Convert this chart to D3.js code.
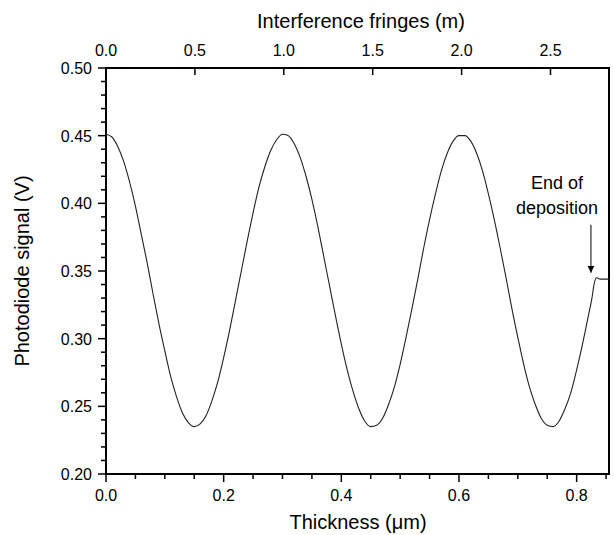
<!DOCTYPE html>
<html>
<head>
<meta charset="utf-8">
<script src="https://cdn.jsdelivr.net/npm/d3@7"></script>
<style>
  body { margin: 0; background: #fff; overflow: hidden; }
  svg { display: block; font-family: 'Liberation Sans', Arial, sans-serif; }
  .axis path, .axis line { stroke: #000; }
  .tick-label { fill: #000; font-size: 16px; }
</style>
</head>
<body>
<div id="chart"></div>
<script>
/* Data */
const thickness = [
  0.00, 0.01, 0.02, 0.03, 0.04, 0.05, 0.06, 0.07, 0.08, 0.09,
  0.10, 0.11, 0.12, 0.13, 0.14, 0.15, 0.16, 0.17, 0.18, 0.19,
  0.20, 0.21, 0.22, 0.23, 0.24, 0.25, 0.26, 0.27, 0.28, 0.29,
  0.30, 0.31, 0.32, 0.33, 0.34, 0.35, 0.36, 0.37, 0.38, 0.39,
  0.40, 0.41, 0.42, 0.43, 0.44, 0.45, 0.46, 0.47, 0.48, 0.49,
  0.50, 0.51, 0.52, 0.53, 0.54, 0.55, 0.56, 0.57, 0.58, 0.59,
  0.60, 0.61, 0.62, 0.63, 0.64, 0.65, 0.66, 0.67, 0.68, 0.69,
  0.70, 0.71, 0.72, 0.73, 0.74, 0.75, 0.76, 0.77, 0.78, 0.79,
  0.80, 0.81, 0.82, 0.826, 0.830, 0.834, 0.840, 0.850, 0.855
];
const signal = [
  0.451, 0.449, 0.442, 0.431, 0.416, 0.398, 0.377, 0.356, 0.333, 0.311,
  0.291, 0.272, 0.257, 0.245, 0.238, 0.235, 0.237, 0.243, 0.254, 0.268,
  0.286, 0.306, 0.328, 0.350, 0.372, 0.393, 0.412, 0.427, 0.439, 0.447,
  0.451, 0.450, 0.444, 0.434, 0.420, 0.403, 0.383, 0.361, 0.339, 0.317,
  0.296, 0.277, 0.261, 0.248, 0.239, 0.235, 0.236, 0.241, 0.251, 0.264,
  0.281, 0.301, 0.322, 0.344, 0.367, 0.388, 0.407, 0.424, 0.437, 0.446,
  0.450, 0.450, 0.446, 0.437, 0.424, 0.407, 0.388, 0.367, 0.345, 0.322,
  0.301, 0.281, 0.264, 0.251, 0.241, 0.236, 0.235, 0.239, 0.248, 0.260,
  0.277, 0.296, 0.317, 0.330, 0.341, 0.345, 0.344, 0.344, 0.344
];
const xDomain = [0, 0.855];
const fringeDomain = [0, 2.829];
const yDomain = [0.20, 0.50];
const xTicks = [0.0, 0.2, 0.4, 0.6, 0.8];
const xMinorTicks = [0.05, 0.1, 0.15, 0.25, 0.3, 0.35, 0.45, 0.5, 0.55, 0.65, 0.7, 0.75, 0.85];
const fringeTicks = [0.0, 0.5, 1.0, 1.5, 2.0, 2.5];
const yTicks = [0.20, 0.25, 0.30, 0.35, 0.40, 0.45, 0.50];
const annotationLines = ['End of', 'deposition'];
const annotationX = 0.826;
const annotationY = 0.345;

const width = 614;
const height = 535;
const margin = { top: 68, right: 5, bottom: 61, left: 106 };
const innerWidth = width - margin.left - margin.right;
const innerHeight = height - margin.top - margin.bottom;

const svg = d3.select('#chart')
  .append('svg')
  .attr('width', width)
  .attr('height', height);

const g = svg.append('g').attr('transform', `translate(${margin.left},${margin.top})`);

// scales in page coordinates, so labels can be placed directly on the svg
const x = d3.scaleLinear().domain(xDomain).range([margin.left, width - margin.right]);
const xTop = d3.scaleLinear().domain(fringeDomain).range([margin.left, width - margin.right]);
const y = d3.scaleLinear().domain(yDomain).range([height - margin.bottom, margin.top]);
const x0 = margin.left, x1 = width - margin.right;
const y0 = margin.top, y1 = height - margin.bottom;

const axes = svg.append('g').attr('class', 'axis');

// y minor ticks every 0.01
const yMinor = d3.range(20, 51).map(v => v / 100).filter(v => Math.round(v * 100) % 5 !== 0);

axes.append('g')
  .selectAll('line')
  .data(yMinor)
  .enter()
  .append('line')
  .attr('x1', x0 - 5).attr('x2', x0)
  .attr('y1', d => y(d)).attr('y2', d => y(d))
  .attr('stroke-width', 1.5);

axes.append('g')
  .selectAll('line')
  .data(xMinorTicks)
  .enter()
  .append('line')
  .attr('x1', d => x(d)).attr('x2', d => x(d))
  .attr('y1', y1).attr('y2', y1 + 5)
  .attr('stroke-width', 1.5);

// major ticks
axes.append('g')
  .selectAll('line')
  .data(yTicks)
  .enter()
  .append('line')
  .attr('x1', x0 - 8).attr('x2', x0)
  .attr('y1', d => y(d)).attr('y2', d => y(d))
  .attr('stroke-width', 1.5);

axes.append('g')
  .selectAll('line')
  .data(xTicks)
  .enter()
  .append('line')
  .attr('x1', d => x(d)).attr('x2', d => x(d))
  .attr('y1', y1).attr('y2', y1 + 8)
  .attr('stroke-width', 1.5);

// top ticks point inward
axes.append('g')
  .selectAll('line')
  .data(fringeTicks)
  .enter()
  .append('line')
  .attr('x1', d => xTop(d)).attr('x2', d => xTop(d))
  .attr('y1', y0).attr('y2', y0 + 7)
  .attr('stroke-width', 1.5);

// frame
axes.append('rect')
  .attr('x', x0).attr('y', y0)
  .attr('width', x1 - x0).attr('height', y1 - y0)
  .attr('fill', 'none')
  .attr('stroke', '#000')
  .attr('stroke-width', 2);

// tick labels
const fmt1 = d3.format('.1f');
const fmt2 = d3.format('.2f');

svg.append('g')
  .selectAll('text')
  .data(yTicks)
  .enter()
  .append('text')
  .attr('class', 'tick-label')
  .attr('x', x0 - 14)
  .attr('y', d => y(d) + 6)
  .attr('text-anchor', 'end')
  .text(fmt2);

svg.append('g')
  .selectAll('text')
  .data(xTicks)
  .enter()
  .append('text')
  .attr('class', 'tick-label')
  .attr('x', d => x(d))
  .attr('y', y1 + 27)
  .attr('text-anchor', 'middle')
  .text(fmt1);

svg.append('g')
  .selectAll('text')
  .data(fringeTicks)
  .enter()
  .append('text')
  .attr('class', 'tick-label')
  .attr('x', d => xTop(d))
  .attr('y', y0 - 12)
  .attr('text-anchor', 'middle')
  .text(fmt1);

// signal curve
const points = thickness.map((t, i) => [t, signal[i]]);
const line = d3.line()
  .x(d => x(d[0]))
  .y(d => y(d[1]))
  .curve(d3.curveMonotoneX);

svg.append('path')
  .datum(points)
  .attr('fill', 'none')
  .attr('stroke', '#222')
  .attr('stroke-width', 1.1)
  .attr('d', line);

// annotation
svg.append('defs').append('marker')
  .attr('id', 'arrow')
  .attr('viewBox', '0 0 10 10')
  .attr('refX', 10).attr('refY', 5)
  .attr('markerWidth', 7).attr('markerHeight', 11)
  .attr('markerUnits', 'userSpaceOnUse')
  .attr('orient', 'auto')
  .append('path')
  .attr('d', 'M0,0 L10,5 L0,10 Z')
  .attr('fill', '#000');

const ax = x(annotationX) - 1;
svg.append('line')
  .attr('x1', ax).attr('x2', ax)
  .attr('y1', y(annotationY) - 53).attr('y2', y(annotationY) - 5)
  .attr('stroke', '#000')
  .attr('stroke-width', 1)
  .attr('marker-end', 'url(#arrow)');

annotationLines.forEach((t, i) => {
  svg.append('text')
    .attr('x', ax - 34)
    .attr('y', y(annotationY) - 89 + i * 25)
    .attr('text-anchor', 'middle')
    .style('font-size', '18px')
    .text(t);
});

// axis titles
svg.append('text')
  .attr('x', 358)
  .attr('y', 529)
  .attr('text-anchor', 'middle')
  .style('font-size', '20px')
  .text('Thickness (\u03bcm)');

svg.append('text')
  .attr('x', 361)
  .attr('y', 28)
  .attr('text-anchor', 'middle')
  .style('font-size', '20px')
  .text('Interference fringes (m)');

svg.append('text')
  .attr('transform', `translate(29,271) rotate(-90)`)
  .attr('text-anchor', 'middle')
  .style('font-size', '20px')
  .text('Photodiode signal (V)');
</script>
</body>
</html>
